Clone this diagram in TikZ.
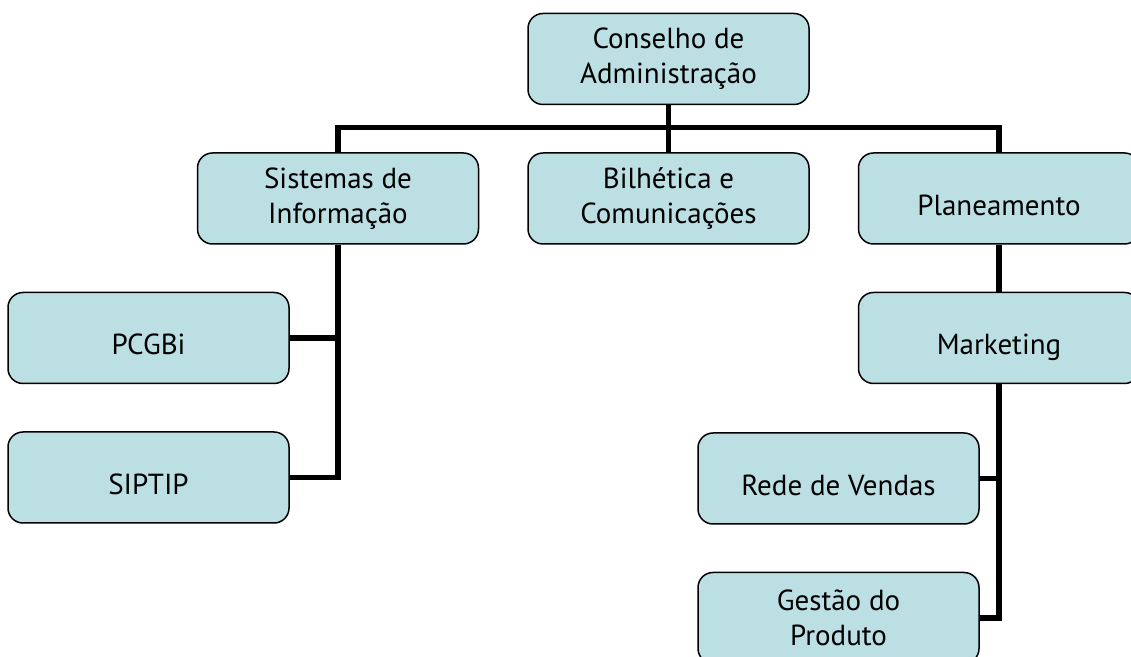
\documentclass[tikz,border=0pt]{standalone}
\usepackage{fontspec}
\setmainfont{PT Sans}
\usetikzlibrary{positioning,calc}
\definecolor{boxfill}{HTML}{BBDFE3}

\begin{document}
\begin{tikzpicture}[
    unit/.style={rectangle, rounded corners=7.5pt, draw=black, line width=0.75pt, fill=boxfill, align=center, minimum width=140.5pt, minimum height=45.5pt, inner sep=2pt},
    oneline/.style={unit, text height=20pt, text depth=3pt},
    link/.style={draw=black, line width=2.6pt},
    node distance=23.5pt and 24pt,
    font=\fontsize{14.5}{17.5}\selectfont
  ]
    \useasboundingbox (0,0) rectangle (565.5pt,-328.5pt);

    \node[unit] (conselho) at (334.25pt,-29.5pt) {Conselho de\\Administração};
    \node[unit, below=of conselho] (bilhetica) {Bilhética e\\Comunicações};
    \node[unit, left=of bilhetica] (sistemas) {Sistemas de\\Informação};
    \node[oneline, right=of bilhetica] (planeamento) {Planeamento};

    \node[oneline, below left=23.5pt and -46.5pt of sistemas] (pcgbi) {PCGBi};
    \node[oneline, below=of pcgbi] (siptip) {SIPTIP};

    \node[oneline, below=of planeamento] (marketing) {Marketing};
    \node[oneline, below left=24pt and -61pt of marketing] (rede) {Rede de Vendas};
    \node[unit, below=of rede] (gestao) {Gestão do\\Produto};

    \coordinate (bus) at ($(conselho.south)!0.47!(bilhetica.north)$);

    \draw[link] (conselho) -- (bilhetica);
    \draw[link] (sistemas.north) |- (bus) -| (planeamento.north);
    \draw[link] (sistemas.south) |- (siptip.east);
    \draw[link] (pcgbi.east) -- (pcgbi.east -| sistemas.south);
    \draw[link] (planeamento) -- (marketing);
    \draw[link] (marketing.south) |- (gestao.east);
    \draw[link] (rede.east) -- (rede.east -| marketing.south);
  \end{tikzpicture}
\end{document}
